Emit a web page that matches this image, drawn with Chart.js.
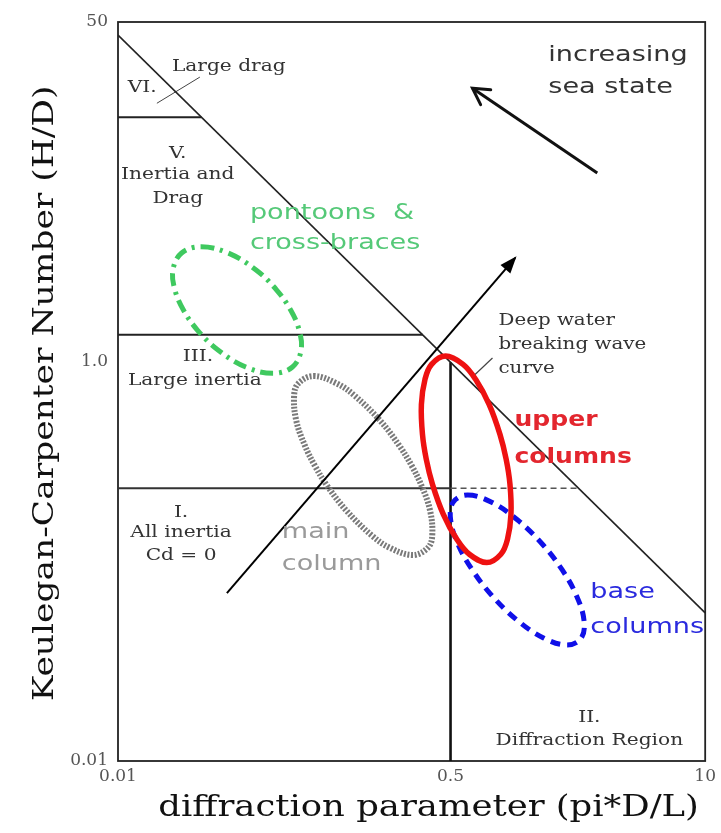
<!DOCTYPE html>
<html>
<head>
<title>Keulegan-Carpenter number vs diffraction parameter</title>
<script src="https://cdn.jsdelivr.net/npm/chart.js@4.4.0/dist/chart.umd.min.js"></script>
<style>
    body { margin: 0; background: #fff; }
    #wrap { width: 721px; height: 833px; }
</style>
</head>
<body>
<div id="wrap"><canvas id="kcChart" width="721" height="833"></canvas></div>
<script>
// axis ticks
const xTicks = [0.01, 0.5, 10];
const xTickLabels = ['0.01', '0.5', '10'];
const yTicks = [0.01, 1, 50];
const yTickLabels = ['0.01', '1.0', '50'];

// region boundaries (diffraction parameter, KC number)
const breakX = [0.01, 10], breakY = [43, 0.0551];
const bound6X = [0.01, 0.0267], bound6Y = [16.7, 16.7];
const bound3X = [0.01, 0.361], bound3Y = [1.36, 1.36];
const bound1X = [0.01, 0.5], bound1Y = [0.232, 0.232];
const bound1DashX = [0.5, 2.25], bound1DashY = [0.232, 0.232];
const diffX = [0.5, 0.5], diffY = [0.99, 0.01];
const dragPtrX = [0.0158, 0.0262], dragPtrY = [19.6, 26.5];
const deepPtrX = [0.647, 0.819], deepPtrY = [0.836, 1.04];
const seaArrowX = [2.81, 0.647], seaArrowY = [8.77, 23.3];
const trendX = [0.036, 1.07], trendY = [0.0693, 3.30];

// member zones, read round each loop (closed by the loop plugin)
const pontoonX = [0.02667, 0.03658, 0.05073, 0.06466, 0.07622, 0.08423, 0.08623, 0.07785, 0.06171, 0.04496, 0.03243, 0.02544, 0.02159, 0.01954, 0.01908, 0.02113];
const pontoonY = [3.75, 3.487, 2.868, 2.277, 1.808, 1.436, 1.140, 0.9376, 0.872, 0.9376, 1.140, 1.436, 1.808, 2.277, 2.868, 3.487];
const mainX = [0.0997, 0.1315, 0.1615, 0.2183, 0.2734, 0.3162, 0.3552, 0.3930, 0.4032, 0.3839, 0.3211, 0.2433, 0.1981, 0.1467, 0.1169, 0.1012, 0.0901, 0.0814, 0.0794, 0.0833];
const mainY = [0.845, 0.775, 0.675, 0.506, 0.3794, 0.3013, 0.2392, 0.1794, 0.1345, 0.1171, 0.1074, 0.1171, 0.1345, 0.1794, 0.2392, 0.3013, 0.3794, 0.506, 0.675, 0.775];
const upperX = [0.472, 0.5794, 0.6714, 0.7870, 0.8944, 0.9620, 1.006, 1.018, 0.9768, 0.9040, 0.7661, 0.6239, 0.5384, 0.4595, 0.4043, 0.3758, 0.3594, 0.3549, 0.3702, 0.3999];
const upperY = [1.064, 0.967, 0.8135, 0.6100, 0.4316, 0.3236, 0.2426, 0.1717, 0.1287, 0.1083, 0.0984, 0.1083, 0.1287, 0.1717, 0.2426, 0.3236, 0.4316, 0.6100, 0.8135, 0.967];
const baseX = [0.6109, 0.8057, 1.101, 1.486, 1.861, 2.194, 2.402, 2.329, 1.968, 1.493, 1.092, 0.8093, 0.6463, 0.5480, 0.5007, 0.5161];
const baseY = [0.2145, 0.1978, 0.1608, 0.1206, 0.0904, 0.0677, 0.0508, 0.0413, 0.0381, 0.0413, 0.0508, 0.0677, 0.0904, 0.1206, 0.1608, 0.1978];

// labels (placed at data values)
const regionText = ['Large drag', 'VI.', 'V.', 'Inertia and', 'Drag', 'III.', 'Large inertia', 'I.', 'All inertia', 'Cd = 0', 'II.', 'Diffraction Region'];
const regionX = [0.0368, 0.0133, 0.0202, 0.0202, 0.0202, 0.0256, 0.0247, 0.021, 0.021, 0.021, 2.56, 2.56];
const regionY = [29.8, 23.4, 11.0, 8.57, 6.5, 1.06, 0.798, 0.174, 0.138, 0.107, 0.0165, 0.0126];
const noteText = ['Deep water', 'breaking wave', 'curve'];
const noteX = [0.879, 0.879, 0.879];
const noteY = [1.59, 1.21, 0.916];
const calloutText = ['increasing', 'sea state', 'pontoons  &', 'cross-braces', 'main', 'column', 'upper', 'columns', 'base', 'columns'];
const calloutX = [1.58, 1.58, 0.0472, 0.0472, 0.0687, 0.0687, 1.06, 1.06, 2.59, 2.59];
const calloutY = [34.1, 23.6, 5.53, 3.92, 0.140, 0.0968, 0.509, 0.332, 0.0702, 0.0469];
const calloutGroup = ['sea', 'sea', 'pontoon', 'pontoon', 'main', 'main', 'upper', 'upper', 'base', 'base'];

const groupColor = {
    sea: '#333333', pontoon: '#55c978', main: '#9a9a9a', upper: '#e3262e', base: '#2a2ade'
};
const SERIF = "'DejaVu Serif', serif";
const SANS = "'DejaVu Sans', sans-serif";

const pts = (xs, ys) => xs.map((x, i) => ({x: x, y: ys[i]}));
const line = (xs, ys, color, width, extra) => Object.assign({
    data: pts(xs, ys),
    borderColor: color,
    borderWidth: width,
    pointRadius: 0,
    tension: 0,
    fill: false
}, extra || {});

const datasets = [
    line(trendX, trendY, '#000', 2, {arrow: 'filled'}),
    line(seaArrowX, seaArrowY, '#111', 3, {arrow: 'open'}),
    line(upperX, upperY, '#ee1111', 5.5, {tension: 0.38, closed: true}),
    line(baseX, baseY, '#1010e8', 5, {tension: 0.38, closed: true, borderDash: [10, 7]}),
    line(mainX, mainY, '#7a7a7a', 6, {tension: 0.38, closed: true, borderDash: [2, 1.6]}),
    line(pontoonX, pontoonY, '#3fc95f', 5, {tension: 0.38, closed: true, borderDash: [13, 6, 3, 6]}),
    line(breakX, breakY, '#222', 1.6),
    line(bound6X, bound6Y, '#222', 2),
    line(bound3X, bound3Y, '#222', 2),
    line(bound1X, bound1Y, '#333', 2),
    line(bound1DashX, bound1DashY, '#555', 1.4, {borderDash: [6, 4]}),
    line(diffX, diffY, '#111', 2.6),
    line(dragPtrX, dragPtrY, '#444', 1),
    line(deepPtrX, deepPtrY, '#444', 1.2)
];

function putText(ctx, str, px, py, align, sx) {
    ctx.save();
    ctx.translate(px, py);
    ctx.scale(sx, 1);
    ctx.textAlign = align;
    ctx.fillText(str, 0, 0);
    ctx.restore();
}

// join the last point of a zone back to the first as a smooth curve
const loopPlugin = {
    id: 'loops',
    afterDatasetsUpdate(chart) {
        chart.data.datasets.forEach((ds, i) => {
            if (!ds.closed) return;
            const el = chart.getDatasetMeta(i).dataset;
            el._loop = true;
            el._fullLoop = true;
            delete el._segments;
            delete el._path;
            el._pointsUpdated = false;
        });
    }
};

const framePlugin = {
    id: 'frame',
    beforeDatasetsDraw(chart) {
        const {ctx, chartArea: a} = chart;
        ctx.save();
        ctx.strokeStyle = '#222';
        ctx.lineWidth = 1.8;
        ctx.strokeRect(a.left, a.top, a.right - a.left, a.bottom - a.top);
        ctx.restore();
    }
};

const arrowPlugin = {
    id: 'arrows',
    afterDatasetsDraw(chart) {
        const ctx = chart.ctx;
        chart.data.datasets.forEach((ds, i) => {
            if (!ds.arrow) return;
            const pts = chart.getDatasetMeta(i).data;
            const p1 = pts[pts.length - 2], p2 = pts[pts.length - 1];
            const ang = Math.atan2(p2.y - p1.y, p2.x - p1.x);
            ctx.save();
            ctx.translate(p2.x, p2.y);
            ctx.rotate(ang);
            ctx.strokeStyle = ds.borderColor;
            ctx.fillStyle = ds.borderColor;
            if (ds.arrow === 'filled') {
                ctx.beginPath();
                ctx.moveTo(2, 0);
                ctx.lineTo(-15, -6.5);
                ctx.lineTo(-15, 6.5);
                ctx.closePath();
                ctx.fill();
            } else {
                ctx.lineWidth = ds.borderWidth;
                ctx.lineCap = 'round';
                ctx.beginPath();
                ctx.moveTo(-16, -9);
                ctx.lineTo(0, 0);
                ctx.lineTo(-16, 9);
                ctx.stroke();
            }
            ctx.restore();
        });
    }
};

const labelPlugin = {
    id: 'labels',
    afterDatasetsDraw(chart) {
        const {ctx, chartArea: a, scales: {x, y}} = chart;
        ctx.save();
        ctx.textBaseline = 'middle';

        ctx.font = '16px ' + SERIF;
        ctx.fillStyle = '#333';
        regionText.forEach((t, i) => putText(ctx, t, x.getPixelForValue(regionX[i]), y.getPixelForValue(regionY[i]), 'center', 1.26));
        noteText.forEach((t, i) => putText(ctx, t, x.getPixelForValue(noteX[i]), y.getPixelForValue(noteY[i]), 'left', 1.24));

        calloutText.forEach((t, i) => {
            const g = calloutGroup[i];
            ctx.fillStyle = groupColor[g];
            ctx.font = (g === 'upper' ? 'bold ' : '') + '22px ' + SANS;
            putText(ctx, t, x.getPixelForValue(calloutX[i]), y.getPixelForValue(calloutY[i]), 'left', g === 'upper' ? 1.14 : 1.23);
        });

        // axis titles
        ctx.fillStyle = '#111';
        ctx.font = '30px ' + SERIF;
        putText(ctx, 'diffraction parameter (pi*D/L)', (a.left + a.right) / 2 + 17, 808, 'center', 1.18);
        ctx.font = '28px ' + SERIF;
        ctx.save();
        ctx.translate(46, (a.top + a.bottom) / 2 + 2);
        ctx.rotate(-Math.PI / 2);
        putText(ctx, 'Keulegan-Carpenter Number (H/D)', 0, 0, 'center', 1.23);
        ctx.restore();
        ctx.restore();
    }
};

new Chart(document.getElementById('kcChart'), {
    type: 'line',
    data: {datasets: datasets},
    options: {
        responsive: false,
        animation: false,
        devicePixelRatio: 1,
        layout: {padding: {top: 22, right: 15, left: 0, bottom: 0}},
        plugins: {legend: {display: false}, tooltip: {enabled: false}},
        scales: {
            x: {
                type: 'logarithmic',
                min: 0.01,
                max: 10,
                afterBuildTicks: s => { s.ticks = xTicks.map(v => ({value: v})); },
                afterFit: s => { s.height = 72; },
                grid: {display: false, drawTicks: false},
                border: {display: false},
                ticks: {
                    padding: 5,
                    maxRotation: 0,
                    autoSkip: false,
                    color: '#555',
                    font: {family: SERIF, size: 17},
                    callback: v => xTickLabels[xTicks.indexOf(v)]
                }
            },
            y: {
                type: 'logarithmic',
                min: 0.01,
                max: 50,
                afterBuildTicks: s => { s.ticks = yTicks.map(v => ({value: v})); },
                afterFit: s => { s.width = 118; },
                grid: {display: false, drawTicks: false},
                border: {display: false},
                ticks: {
                    padding: 10,
                    autoSkip: false,
                    color: '#555',
                    font: {family: SERIF, size: 17},
                    callback: v => yTickLabels[yTicks.indexOf(v)]
                }
            }
        }
    },
    plugins: [loopPlugin, framePlugin, arrowPlugin, labelPlugin]
});
</script>
</body>
</html>
